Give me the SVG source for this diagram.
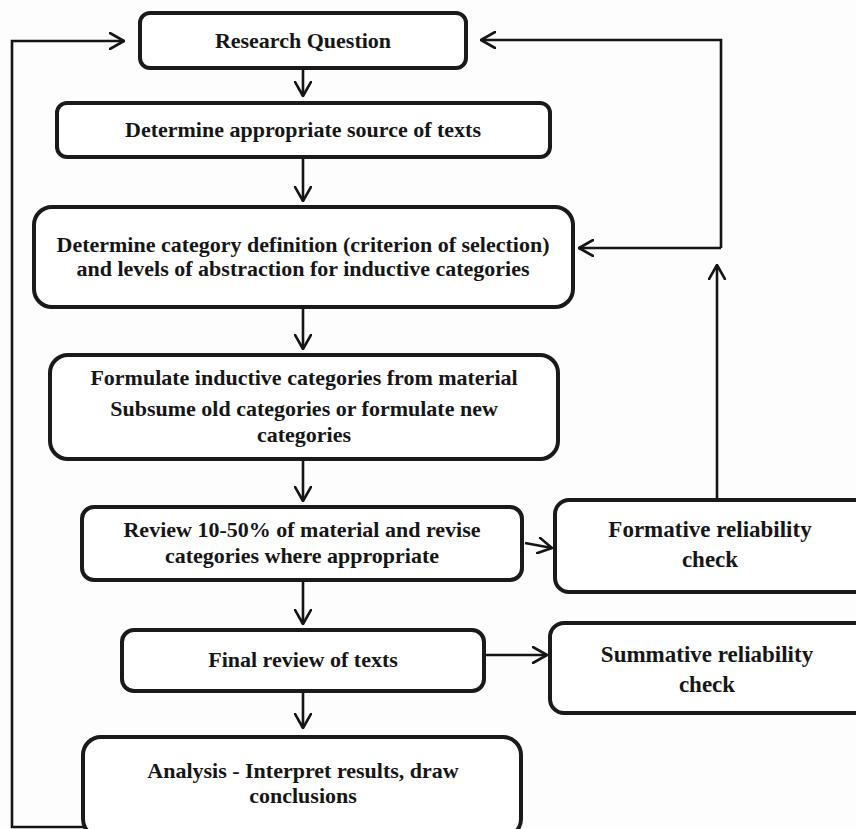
<svg xmlns="http://www.w3.org/2000/svg" width="856" height="829" viewBox="0 0 856 829">
<defs>
<marker id="arr" viewBox="0 0 16 18" refX="15" refY="9" markerWidth="16" markerHeight="18" markerUnits="userSpaceOnUse" orient="auto">
<path d="M1,1 L15,9 L1,17" fill="none" stroke="#151515" stroke-width="2.6" stroke-linecap="round" stroke-linejoin="round"/>
</marker>
</defs>
<style>
.box{fill:#ffffff;stroke:#1a1a1a;stroke-width:4}
.t{font-family:"Liberation Serif","Times New Roman",serif;font-weight:bold;font-size:22px;fill:#161616;text-anchor:middle}
.t2{font-size:23px}
.c{fill:none;stroke:#151515;stroke-width:2.6}
</style>
<rect x="0" y="0" width="856" height="829" fill="#fdfdfd"/>
<g id="connectors">
<path class="c" d="M303,68 L303,96" marker-end="url(#arr)"/>
<path class="c" d="M303,157 L303,201" marker-end="url(#arr)"/>
<path class="c" d="M303,307 L303,349" marker-end="url(#arr)"/>
<path class="c" d="M303,459 L303,501" marker-end="url(#arr)"/>
<path class="c" d="M303,580 L303,624" marker-end="url(#arr)"/>
<path class="c" d="M303,691 L303,728" marker-end="url(#arr)"/>
<path class="c" d="M525,543 L552,548" marker-end="url(#arr)"/>
<path class="c" d="M486,655 L547,655" marker-end="url(#arr)"/>
<path class="c" d="M717,500 L717,265" marker-end="url(#arr)"/>
<path class="c" d="M721,248 L721,40 L481,40" marker-end="url(#arr)"/>
<path class="c" d="M721,248 L579,248" marker-end="url(#arr)"/>
<path class="c" d="M180,827 L12,827 L12,41 L124,41" marker-end="url(#arr)"/>
</g>
<g id="research-question">
<rect class="box" x="140" y="13" width="326" height="55" rx="10"/>
<text class="t" x="303" y="48">Research Question</text>
</g>
<g id="source-of-texts">
<rect class="box" x="57" y="103" width="493" height="54" rx="10"/>
<text class="t" x="303" y="137">Determine appropriate source of texts</text>
</g>
<g id="category-definition">
<rect class="box" x="34" y="207" width="539" height="100" rx="18"/>
<text class="t" x="303" y="252">Determine category definition (criterion of selection)</text>
<text class="t" x="303" y="276">and levels of abstraction for inductive categories</text>
</g>
<g id="formulate-categories">
<rect class="box" x="50" y="355" width="508" height="104" rx="18"/>
<text class="t" x="304" y="385">Formulate inductive categories from material</text>
<text class="t" x="304" y="416">Subsume old categories or formulate new</text>
<text class="t" x="304" y="442">categories</text>
</g>
<g id="review-material">
<rect class="box" x="82" y="507" width="440" height="73" rx="12"/>
<text class="t" x="302" y="537">Review 10-50% of material and revise</text>
<text class="t" x="302" y="563">categories where appropriate</text>
</g>
<g id="formative-check">
<rect class="box" x="555" y="500" width="320" height="92" rx="14"/>
<text class="t t2" x="710" y="537">Formative reliability</text>
<text class="t t2" x="710" y="567">check</text>
</g>
<g id="final-review">
<rect class="box" x="122" y="630" width="362" height="61" rx="12"/>
<text class="t" x="303" y="667">Final review of texts</text>
</g>
<g id="summative-check">
<rect class="box" x="550" y="623" width="320" height="90" rx="14"/>
<text class="t t2" x="707" y="662">Summative reliability</text>
<text class="t t2" x="707" y="692">check</text>
</g>
<g id="analysis">
<rect class="box" x="83" y="737" width="438" height="100" rx="18"/>
<text class="t" x="303" y="778">Analysis - Interpret results, draw</text>
<text class="t" x="303" y="803">conclusions</text>
</g>
</svg>
